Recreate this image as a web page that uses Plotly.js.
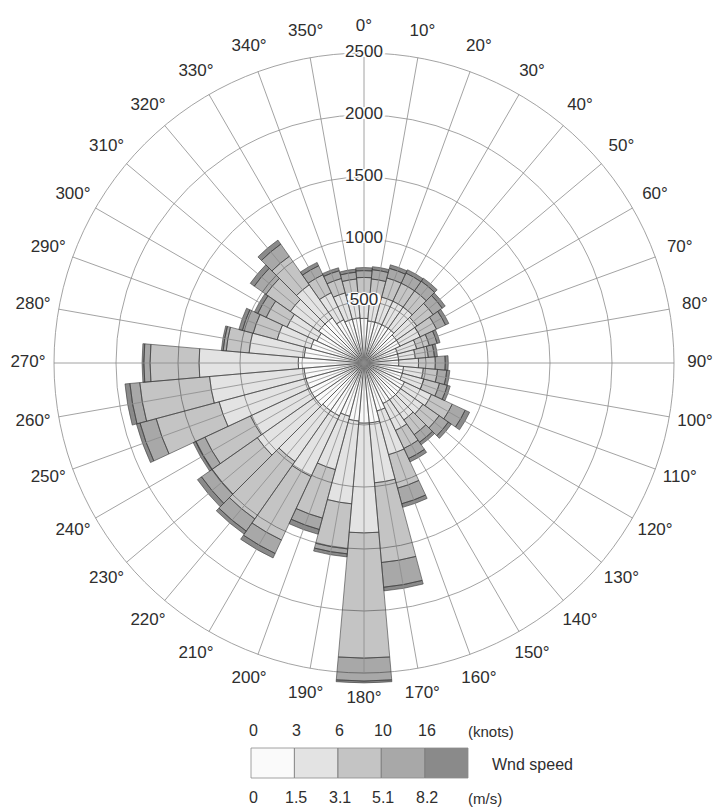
<!DOCTYPE html>
<html><head><meta charset="utf-8">
<script src="https://cdn.plot.ly/plotly-3.0.1.min.js"></script>
<style>html,body{margin:0;padding:0;background:#fff}#chart{width:715px;height:807px}</style>
</head><body><div id="chart"></div>
<script>
// Wind directions (degrees, clockwise from north)
const directions = [0,10,20,30,40,50,60,70,80,90,100,110,120,130,140,150,160,170,180,190,200,210,220,230,240,250,260,270,280,290,300,310,320,330,340,350];
// Speed classes (m/s)
const speedBins = ['0–1.5 m/s','1.5–3.1 m/s','3.1–5.1 m/s','5.1–8.2 m/s','>8.2 m/s'];
// Counts per direction, per speed class (stacked)
const bin1 = [360,340,340,340,340,320,320,280,280,280,320,320,360,360,360,360,400,485,485,470,445,470,470,485,485,485,485,530,485,445,420,445,445,385,365,365];
const bin2 = [200,185,210,210,210,200,180,160,135,160,160,180,240,220,200,240,365,485,885,670,445,540,500,565,525,725,765,800,445,280,265,280,325,240,220,200];
const bin3 = [130,155,160,160,160,160,145,105,105,135,115,130,185,160,145,160,280,645,1010,365,405,565,565,445,405,525,565,395,185,200,185,240,280,160,120,115];
const bin4 = [55,75,80,90,95,90,80,65,50,80,75,65,115,90,75,90,130,200,185,40,95,120,120,105,80,135,80,50,25,90,75,115,120,80,65,55];
const bin5 = [25,25,30,30,30,30,30,25,25,25,25,25,40,30,25,30,30,30,15,25,40,40,30,40,25,30,40,15,15,30,30,40,40,30,25,25];
// Radial ticks (the last one is the outer circle)
const radialTicks = [500,1000,1500,2000,2500];
// Legend labels
const knotsLabels = ['0','3','6','10','16'];
const msLabels = ['0','1.5','3.1','5.1','8.2'];

const binColors = ['rgba(0,0,0,0.02)','rgba(0,0,0,0.11)','rgba(0,0,0,0.23)','rgba(0,0,0,0.34)','rgba(0,0,0,0.46)'];
const series = [bin1,bin2,bin3,bin4,bin5];
const FONT = 'Liberation Sans, Arial, sans-serif';
const TXT = '#2e2e2e';
const GRID = '#8c8c8c';
const OUTER = radialTicks[radialTicks.length-1];
const LABEL_R = 2710;   // ring (data units) on which the direction labels are centred

const data = [];
// spokes: from the centre to the outer (2500) circle
const spokeR = [], spokeT = [];
directions.forEach(d=>{ spokeR.push(0, OUTER, null); spokeT.push(d, d, null); });
data.push({type:'scatterpolar', mode:'lines', r:spokeR, theta:spokeT,
  line:{color:GRID, width:0.8}, showlegend:false, hoverinfo:'skip', connectgaps:false});

series.forEach((vals,i)=>data.push({
  type:'barpolar', name:speedBins[i], r:vals, theta:directions, width:directions.map(()=>10),
  marker:{color:binColors[i], line:{color:'rgba(60,60,60,0.85)', width:0.7}},
  showlegend:false, hoverinfo:'skip'
}));
// radial tick labels on the 0° spoke
data.push({
  type:'scatterpolar', mode:'text', r:radialTicks, theta:radialTicks.map(()=>0),
  text:radialTicks.map(String), textposition:'middle center',
  textfont:{family:FONT, size:17, color:TXT,
    shadow:'1px 0 0 #fff, -1px 0 0 #fff, 0 1px 0 #fff, 0 -1px 0 #fff, 2px 0 0 #fff, -2px 0 0 #fff, 3px 0 0 #fff, -3px 0 0 #fff, 0 0 3px #fff'},
  showlegend:false, hoverinfo:'skip', cliponaxis:false
});
// direction labels
data.push({
  type:'scatterpolar', mode:'text', r:directions.map(()=>LABEL_R), theta:directions,
  text:directions.map(d=>d+'°'), textposition:'middle center',
  textfont:{family:FONT, size:17, color:TXT},
  showlegend:false, hoverinfo:'skip', cliponaxis:false
});

const W=715, H=807;
const px = x => x/W, py = y => 1 - y/H;
const boxX0 = 251, boxW = 43.4, boxY0 = 748, boxY1 = 778;
const shapes = binColors.map((c,i)=>({
  type:'rect', xref:'paper', yref:'paper',
  x0:px(boxX0+i*boxW), x1:px(boxX0+(i+1)*boxW), y0:py(boxY1), y1:py(boxY0),
  fillcolor:c, line:{color:'#8a8a8a', width:0.8}
}));
const ann = (x,y,t,size)=>({xref:'paper',yref:'paper',x:px(x),y:py(y),xanchor:'center',yanchor:'middle',
  text:t,showarrow:false,font:{family:FONT,size:size,color:TXT}});
const annotations = [];
knotsLabels.forEach((t,i)=>annotations.push(ann(boxX0+i*boxW+2,730,t,16)));
msLabels.forEach((t,i)=>annotations.push(ann(boxX0+i*boxW+2,797,t,16)));
annotations.push(ann(491,731,'(knots)',15));
annotations.push(ann(485,798,'(m/s)',15));
annotations.push(ann(532,764,'Wnd speed',16));

const RMAX = 2800;
const cx=364, cy=363, R=RMAX*310/OUTER;
const layout = {
  width:W, height:H, margin:{l:0,r:0,t:0,b:0},
  paper_bgcolor:'#fff', plot_bgcolor:'#fff',
  font:{family:FONT, color:TXT},
  polar:{
    domain:{x:[px(cx-R), px(cx+R)], y:[py(cy+R), py(cy-R)]},
    bgcolor:'rgba(0,0,0,0)',
    barmode:'stack', bargap:0,
    radialaxis:{range:[0,RMAX], tickvals:radialTicks, showticklabels:false, ticks:'', showline:false,
      angle:90, gridcolor:GRID, gridwidth:0.8},
    angularaxis:{direction:'clockwise', rotation:90, tickmode:'linear', tick0:0, dtick:10,
      showticklabels:false, showline:false, showgrid:false, ticks:''}
  },
  shapes:shapes, annotations:annotations
};
Plotly.newPlot('chart', data, layout, {staticPlot:true});
</script></body></html>
